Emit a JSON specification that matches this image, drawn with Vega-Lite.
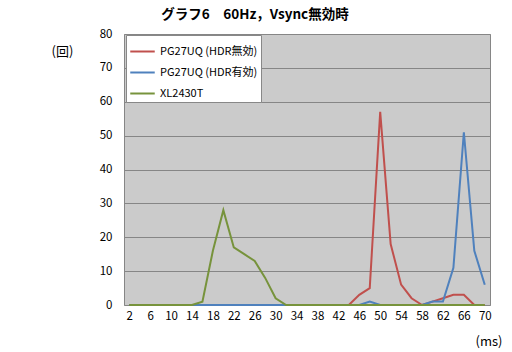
{
  "$schema": "https://vega.github.io/schema/vega-lite/v6.json",
  "width": 366,
  "height": 271,
  "autosize": "none",
  "padding": {"left": 124, "top": 34, "right": 22, "bottom": 47},
  "background": "white",
  "title": {
    "text": "グラフ6　60Hz，Vsync無効時",
    "anchor": "middle",
    "frame": "group",
    "dx": -52,
    "offset": 7,
    "font": "Noto Sans CJK JP",
    "fontSize": 13.5,
    "fontWeight": "bold",
    "color": "black"
  },
  "data": {
    "values": [
      {"x": 2, "a": 0, "b": 0, "c": 0},
      {"x": 4, "a": 0, "b": 0, "c": 0},
      {"x": 6, "a": 0, "b": 0, "c": 0},
      {"x": 8, "a": 0, "b": 0, "c": 0},
      {"x": 10, "a": 0, "b": 0, "c": 0},
      {"x": 12, "a": 0, "b": 0, "c": 0},
      {"x": 14, "a": 0, "b": 0, "c": 0},
      {"x": 16, "a": 0, "b": 0, "c": 1},
      {"x": 18, "a": 0, "b": 0, "c": 16},
      {"x": 20, "a": 0, "b": 0, "c": 28},
      {"x": 22, "a": 0, "b": 0, "c": 17},
      {"x": 24, "a": 0, "b": 0, "c": 15},
      {"x": 26, "a": 0, "b": 0, "c": 13},
      {"x": 28, "a": 0, "b": 0, "c": 8},
      {"x": 30, "a": 0, "b": 0, "c": 2},
      {"x": 32, "a": 0, "b": 0, "c": 0},
      {"x": 34, "a": 0, "b": 0, "c": 0},
      {"x": 36, "a": 0, "b": 0, "c": 0},
      {"x": 38, "a": 0, "b": 0, "c": 0},
      {"x": 40, "a": 0, "b": 0, "c": 0},
      {"x": 42, "a": 0, "b": 0, "c": 0},
      {"x": 44, "a": 0, "b": 0, "c": 0},
      {"x": 46, "a": 3, "b": 0, "c": 0},
      {"x": 48, "a": 5, "b": 1, "c": 0},
      {"x": 50, "a": 57, "b": 0, "c": 0},
      {"x": 52, "a": 18, "b": 0, "c": 0},
      {"x": 54, "a": 6, "b": 0, "c": 0},
      {"x": 56, "a": 2, "b": 0, "c": 0},
      {"x": 58, "a": 0, "b": 0, "c": 0},
      {"x": 60, "a": 1, "b": 1, "c": 0},
      {"x": 62, "a": 2, "b": 1, "c": 0},
      {"x": 64, "a": 3, "b": 11, "c": 0},
      {"x": 66, "a": 3, "b": 51, "c": 0},
      {"x": 68, "a": 0, "b": 16, "c": 0},
      {"x": 70, "a": 0, "b": 6, "c": 0}
    ]
  },
  "transform": [
    {"fold": ["a", "b", "c"], "as": ["key", "value"]},
    {"lookup": "key", "from": {"data": {"values": [
      {"key": "a", "series": "PG27UQ (HDR無効)"},
      {"key": "b", "series": "PG27UQ (HDR有効)"},
      {"key": "c", "series": "XL2430T"}
    ]}, "key": "key", "fields": ["series"]}}
  ],
  "mark": {"type": "line", "strokeWidth": 2, "strokeJoin": "miter"},
  "encoding": {
    "x": {
      "field": "x",
      "type": "quantitative",
      "scale": {"domain": [1, 71], "nice": false, "zero": false},
      "axis": {
        "values": [2, 6, 10, 14, 18, 22, 26, 30, 34, 38, 42, 46, 50, 54, 58, 62, 66, 70],
        "grid": false,
        "domain": false,
        "ticks": false,
        "labelPadding": 5,
        "title": "(ms)",
        "titleAnchor": "end",
        "titleX": 378,
        "titleY": 40,
        "titleBaseline": "alphabetic",
        "titleFontWeight": "normal",
        "titleFontSize": 13,
        "titleColor": "black"
      }
    },
    "y": {
      "field": "value",
      "type": "quantitative",
      "scale": {"domain": [0, 80], "nice": false},
      "axis": {
        "values": [0, 10, 20, 30, 40, 50, 60, 70, 80],
        "grid": true,
        "gridColor": "#868686",
        "gridOpacity": 1,
        "gridWidth": 1,
        "domain": false,
        "ticks": false,
        "labelPadding": 12,
        "title": "(回)",
        "titleAngle": 0,
        "titleAnchor": "start",
        "titleX": -62,
        "titleY": 21,
        "titleBaseline": "alphabetic",
        "titleAlign": "center",
        "titleFontWeight": "normal",
        "titleFontSize": 13,
        "titleColor": "black"
      }
    },
    "color": {
      "field": "series",
      "type": "nominal",
      "scale": {
        "domain": ["PG27UQ (HDR無効)", "PG27UQ (HDR有効)", "XL2430T"],
        "range": ["#c0504d", "#4f81bd", "#77933c"]
      },
      "legend": {
        "title": null,
        "orient": "none",
        "legendX": 2,
        "legendY": 1,
        "fillColor": "white",
        "strokeColor": "#888888",
        "padding": 3,
        "symbolType": "stroke",
        "symbolStrokeWidth": 2,
        "symbolSize": 600,
        "labelFontSize": 11,
        "labelColor": "black",
        "rowPadding": 2,
        "labelOffset": 4
      }
    }
  },
  "config": {
    "font": "Noto Sans CJK JP",
    "view": {"fill": "#cbcbcb", "stroke": "#868686", "strokeWidth": 1},
    "axis": {"labelFontSize": 11.5, "labelColor": "black", "labelFont": "Noto Sans CJK JP"},
    "legend": {"labelFont": "Noto Sans CJK JP"}
  }
}
